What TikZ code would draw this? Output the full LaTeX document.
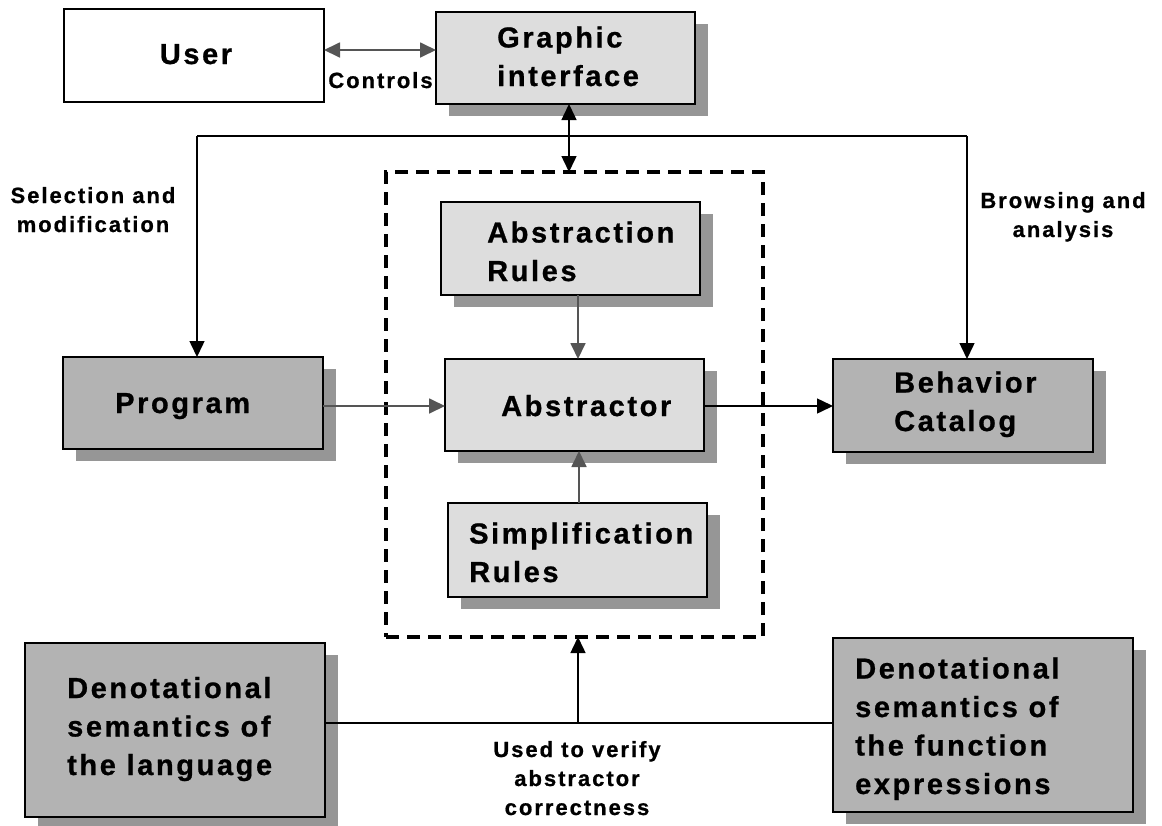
\documentclass[tikz,border=0pt]{standalone}
\usepackage{fontspec}
\setmainfont{Liberation Sans}
\newfontfamily\lsp{Liberation Sans Bold}[LetterSpace=9,FakeBold=0.8]
\usetikzlibrary{arrows.meta,shadows,calc}
\definecolor{lightfill}{HTML}{DDDDDD}
\definecolor{darkfill}{HTML}{B3B3B3}
\definecolor{shadowgray}{HTML}{969696}
\definecolor{arrowgray}{HTML}{555555}
\tikzset{
  basebox/.style={draw=black, line width=1.5pt, inner sep=0pt, outer sep=0pt},
  shad/.style={drop shadow={shadow xshift=13pt, shadow yshift=-12pt, fill=shadowgray, opacity=1}},
  wbox/.style={basebox, fill=white},
  lbox/.style={basebox, fill=lightfill, shad},
  dbox/.style={basebox, fill=darkfill, shad},
  grpbox/.style={draw=black, line width=3.6pt, dash pattern=on 13pt off 8pt, inner sep=0pt, outer sep=0pt},
  bigtxt/.style={font=\lsp\fontsize{29}{38.5}\selectfont, align=left, inner sep=0pt},
  smalltxt/.style={font=\lsp\fontsize{22}{29}\selectfont, align=center, inner sep=0pt},
  tip/.tip={Triangle[length=16pt,width=15pt]},
  blk/.style={draw=black, line width=1.5pt},
  gry/.style={draw=arrowgray, line width=1.8pt},
}
\begin{document}
\begin{tikzpicture}[x=1pt,y=-1pt]
\useasboundingbox (0,0) rectangle (1162,825);
% boxes
\node[wbox, minimum width=260pt, minimum height=93pt] (user) at (194,55.5) {};
\node[lbox, minimum width=259pt, minimum height=92pt] (gi) at (565.5,58) {};
\node[grpbox, minimum width=377pt, minimum height=465pt] (grp) at (574.5,404.5) {};
\node[lbox, minimum width=259pt, minimum height=93pt] (ar) at (570.5,248.5) {};
\node[lbox, minimum width=259pt, minimum height=92pt] (abs) at (574.5,405) {};
\node[lbox, minimum width=259pt, minimum height=94pt] (simp) at (577.5,550) {};
\node[dbox, minimum width=260pt, minimum height=92pt] (prog) at (193,403) {};
\node[dbox, minimum width=260pt, minimum height=93pt] (beh) at (963,405.5) {};
\node[dbox, minimum width=300pt, minimum height=174pt] (dl) at (175,730) {};
\node[dbox, minimum width=300pt, minimum height=174pt] (dr) at (983,725) {};
% texts (base anchor = baseline of the last line)
\node[bigtxt, anchor=base] (usert) at (196,64) {User};
\node[bigtxt, anchor=base west] (git) at (497,86) {Graphic\\interface};
\node[bigtxt, anchor=base west] (art) at (487,281) {Abstraction\\Rules};
\node[bigtxt, anchor=base west] (abst) at (501,416) {Abstractor};
\node[bigtxt, anchor=base west] (simpt) at (469,582) {Simplification\\Rules};
\node[bigtxt, anchor=base west] (progt) at (115,413) {Program};
\node[bigtxt, anchor=base west] (beht) at (894,431) {Behavior\\Catalog};
\node[bigtxt, anchor=base west] (dlt) at (67,775) {Denotational\\semantics of\\the language};
\node[bigtxt, anchor=base west] (drt) at (855,794) {Denotational\\semantics of\\the function\\expressions};
\node[smalltxt, anchor=base] (ctl) at (380.5,88) {Controls};
\node[smalltxt, anchor=base] (sel) at (93,232) {Selection and\\modification};
\node[smalltxt, anchor=base] (brw) at (1063,237) {Browsing and\\analysis};
\node[smalltxt, anchor=base] (ver) at (577,815) {Used to verify\\abstractor\\correctness};
% helper coordinates
\coordinate (cy) at (0,50);
\coordinate (gx) at (569,0);
\coordinate (tl) at (197,136);
\coordinate (tr) at (967,136);
\coordinate (ax) at (578,0);
\coordinate (sx) at (579,0);
\coordinate (my) at (0,406);
\coordinate (by) at (0,723);
\coordinate (bj) at (578,723);
% connectors
\draw[gry, tip-tip] (user.east |- cy) -- (gi.west |- cy);
\draw[blk, tip-tip] (gi.south -| gx) -- (grp.north -| gx);
\draw[blk] (tl) -- (tr);
\draw[blk, -tip] (tl) -- (prog.north -| tl);
\draw[blk, -tip] (tr) -- (beh.north -| tr);
\draw[gry, -tip] (ar.south -| ax) -- (abs.north -| ax);
\draw[gry, -tip] (simp.north -| sx) -- (abs.south -| sx);
\draw[gry, -tip] (prog.east |- my) -- (abs.west |- my);
\draw[blk, -tip] (abs.east |- my) -- (beh.west |- my);
\draw[blk] (dl.east |- by) -- (dr.west |- by);
\draw[blk, -tip] (bj) -- (grp.south -| bj);
\end{tikzpicture}
\end{document}
